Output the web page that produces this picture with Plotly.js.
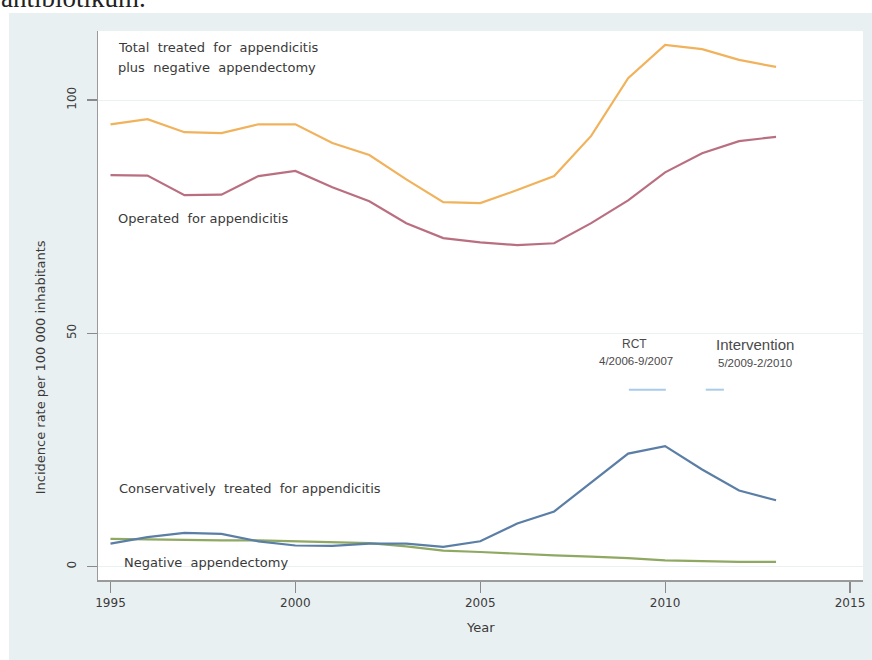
<!DOCTYPE html>
<html>
<head>
<meta charset="utf-8">
<script src="https://cdn.plot.ly/plotly-3.0.1.min.js"></script>
<style>
  html, body { margin: 0; padding: 0; background: #ffffff; }
  #lead { position: absolute; left: 0; top: 0; }
  #chart { position: absolute; left: 9px; top: 13px; width: 863px; height: 647px; }
</style>
</head>
<body>
<svg id="lead" width="872" height="13">
  <text x="1" y="7" font-family="Liberation Serif" font-size="27" fill="#222">antibiotikum.</text>
</svg>
<div id="chart"></div>
<script>
// Incidence per 100 000 inhabitants, 1995-2013
const years = [1995, 1996, 1997, 1998, 1999, 2000, 2001, 2002, 2003, 2004,
               2005, 2006, 2007, 2008, 2009, 2010, 2011, 2012, 2013];
const totalTreated = [94.8, 95.9, 93.1, 92.9, 94.8, 94.8, 90.8, 88.2, 83.0, 78.1,
                      77.9, 80.7, 83.7, 92.3, 104.7, 111.8, 110.9, 108.6, 107.1];
const operated = [83.9, 83.8, 79.6, 79.7, 83.7, 84.8, 81.3, 78.3, 73.6, 70.4,
                  69.5, 68.9, 69.3, 73.6, 78.5, 84.5, 88.6, 91.2, 92.1];
const conservative = [4.9, 6.3, 7.2, 7.0, 5.4, 4.5, 4.4, 4.9, 4.9, 4.2,
                      5.4, 9.2, 11.8, 18.0, 24.2, 25.8, 20.8, 16.3, 14.2];
const negativeAppx = [5.9, 5.8, 5.6, 5.6, 5.6, 5.4, 5.2, 5.0, 4.3, 3.4,
                      3.1, 2.7, 2.4, 2.1, 1.8, 1.3, 1.1, 1.0, 1.0];

// Study period markers
const rctX = [2009.02, 2010.02];
const interventionX = [2011.1, 2011.59];
const markerY = [37.9, 37.9];

const xTicks = [1995, 2000, 2005, 2010, 2015];
const yTicks = [0, 50, 100];

const colTotal = '#f1b25c';
const colOperated = '#b96f80';
const colConservative = '#5b7ea6';
const colNegative = '#8fa862';
const colMarker = '#a9cbea';

function series(y, color) {
  return { x: years, y: y, type: 'scatter', mode: 'lines',
           line: { color: color, width: 2.2 }, hoverinfo: 'skip', showlegend: false };
}
function segment(x, color) {
  return { x: x, y: markerY, type: 'scatter', mode: 'lines',
           line: { color: color, width: 2 }, hoverinfo: 'skip', showlegend: false };
}

const traces = [
  series(negativeAppx, colNegative),
  series(conservative, colConservative),
  series(operated, colOperated),
  series(totalTreated, colTotal),
  segment(rctX, colMarker),
  segment(interventionX, colMarker)
];

const labelFont = { family: 'DejaVu Sans', size: 13, color: '#3a3a3a' };
const noteFont = { family: 'Liberation Sans', size: 12, color: '#4a4a4a' };

function leftLabel(text, x, y) {
  return { text: text, x: x, y: y, xref: 'x', yref: 'y', xanchor: 'left', yanchor: 'middle',
           showarrow: false, font: labelFont };
}
function centerNote(text, x, y, size) {
  return { text: text, x: x, y: y, xref: 'x', yref: 'y', xanchor: 'center', yanchor: 'middle',
           showarrow: false, font: Object.assign({}, noteFont, { size: size }) };
}

const annotations = [
  leftLabel('Total  treated  for  appendicitis', 1995.15, 111.3),
  leftLabel('plus  negative  appendectomy', 1995.15, 107.0),
  leftLabel('Operated  for appendicitis', 1995.15, 74.6),
  leftLabel('Conservatively  treated  for appendicitis', 1995.18, 16.8),
  leftLabel('Negative  appendectomy', 1995.31, 0.75),
  centerNote('RCT', 2009.16, 47.7, 12),
  centerNote('4/2006-9/2007', 2009.21, 44.1, 11.5),
  centerNote('Intervention', 2012.43, 47.5, 15),
  centerNote('5/2009-2/2010', 2012.43, 43.7, 11.5),
  { text: 'Incidence rate per 100 000 inhabitants', xref: 'paper', yref: 'y',
    x: -0.0758, y: 42.7, xanchor: 'center', yanchor: 'middle', textangle: -90,
    showarrow: false, font: labelFont },
  { text: 'Year', xref: 'paper', yref: 'paper', x: 0.5, y: -0.0874,
    xanchor: 'center', yanchor: 'middle', showarrow: false, font: labelFont }
];

const layout = {
  width: 863, height: 647,
  margin: { l: 89, r: 9, t: 18, b: 80, pad: 0 },
  paper_bgcolor: '#e9f0f2',
  plot_bgcolor: '#ffffff',
  showlegend: false,
  xaxis: {
    range: [1994.662, 2015.352],
    tickvals: xTicks, ticktext: xTicks.map(String),
    ticks: 'outside', ticklen: 11, tickwidth: 1.2, tickcolor: '#8a8a8a',
    showline: true, linecolor: '#9a9a9a', linewidth: 1.5,
    showgrid: false, zeroline: false,
    tickfont: { family: 'DejaVu Sans', size: 12, color: '#3a3a3a' }
  },
  yaxis: {
    range: [-2.9, 114.8],
    tickvals: yTicks, ticktext: yTicks.map(String),
    ticks: 'outside', ticklen: 10, tickwidth: 1.2, tickcolor: '#8a8a8a',
    tickangle: -90, ticklabelstandoff: 6,
    showline: true, linecolor: '#9a9a9a', linewidth: 1.5,
    showgrid: true, gridcolor: '#e9f1f1', gridwidth: 1, zeroline: false,
    tickfont: { family: 'DejaVu Sans', size: 12, color: '#3a3a3a' }
  },
  annotations: annotations
};

Plotly.newPlot('chart', traces, layout, { staticPlot: true, displayModeBar: false });
</script>
</body>
</html>
